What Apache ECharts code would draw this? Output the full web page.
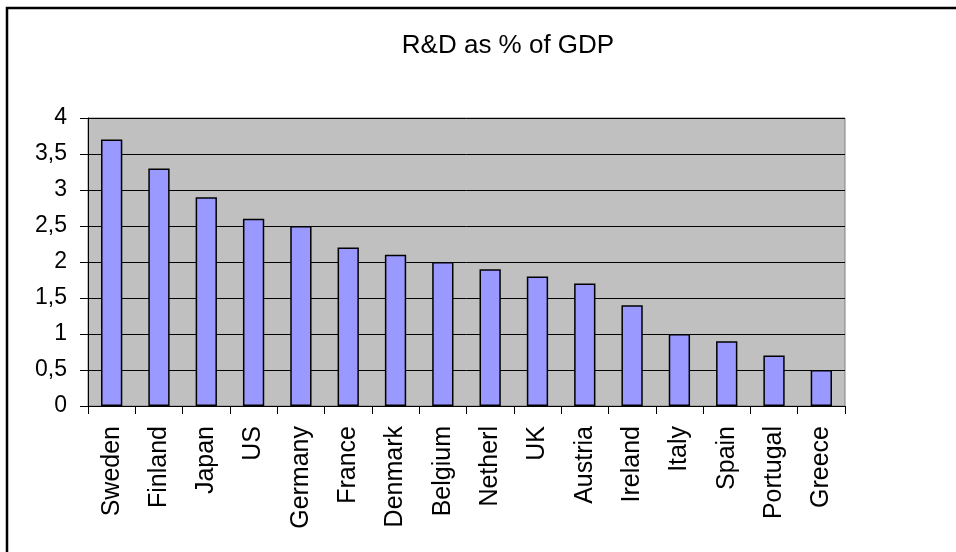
<!DOCTYPE html>
<html>
<head>
<meta charset="utf-8">
<title>R&amp;D as % of GDP</title>
<script src="https://cdn.jsdelivr.net/npm/echarts@6/dist/echarts.min.js"></script>
<style>
  html, body { margin: 0; padding: 0; background: #ffffff; }
  #chart { width: 956px; height: 552px; }
</style>
</head>
<body>
<div id="chart"></div>
<script>
// Country names along the category axis
const countries = ['Sweden', 'Finland', 'Japan', 'US', 'Germany', 'France', 'Denmark',
  'Belgium', 'Netherl', 'UK', 'Austria', 'Ireland', 'Italy', 'Spain', 'Portugal', 'Greece'];

// R&D expenditure as a percentage of GDP
const rdShare = [3.7, 3.3, 2.9, 2.6, 2.5, 2.2, 2.1, 2.0, 1.9, 1.8, 1.7, 1.4, 1.0, 0.9, 0.7, 0.5];

// Value axis range and step
const yMin = 0;
const yMax = 4;
const yStep = 0.5;

const chartTitle = 'R&D as % of GDP';
const FONT = '"Liberation Sans", Arial, sans-serif';

const chart = echarts.init(document.getElementById('chart'), null, { renderer: 'canvas' });

chart.setOption({
  backgroundColor: '#ffffff',
  animation: false,
  title: {
    text: chartTitle,
    left: 503,
    top: 28,
    textAlign: 'center',
    textStyle: { fontFamily: FONT, fontSize: 26, fontWeight: 'normal', color: '#000000' }
  },
  graphic: [
    {
      // outer frame of the chart area
      type: 'rect',
      silent: true,
      z: 100,
      shape: { x: 7, y: 8, width: 1000, height: 600 },
      style: { fill: null, stroke: '#000000', lineWidth: 2.5 }
    }
  ],
  grid: {
    left: 88,
    right: 111,
    top: 118,
    bottom: 146,
    show: true,
    backgroundColor: '#C0C0C0',
    borderColor: '#808080',
    borderWidth: 1
  },
  xAxis: {
    type: 'category',
    data: countries,
    boundaryGap: true,
    axisLine: { show: true, lineStyle: { color: '#000000', width: 1 } },
    axisTick: { show: true, inside: false, length: 8, alignWithLabel: false,
      lineStyle: { color: '#000000', width: 1 } },
    axisLabel: {
      rotate: 90,
      margin: 20,
      interval: 0,
      fontFamily: FONT,
      fontSize: 25,
      color: '#000000'
    },
    splitLine: { show: false }
  },
  yAxis: {
    type: 'value',
    min: yMin,
    max: yMax,
    interval: yStep,
    axisLine: { show: true, lineStyle: { color: '#000000', width: 1 } },
    axisTick: { show: true, inside: false, length: 8, lineStyle: { color: '#000000', width: 1 } },
    axisLabel: {
      margin: 21,
      fontFamily: FONT,
      fontSize: 23,
      color: '#000000',
      formatter: v => String(v).replace('.', ',')
    },
    splitLine: { show: true, lineStyle: { color: '#000000', width: 1 } }
  },
  series: [
    {
      type: 'bar',
      data: rdShare,
      barWidth: '45%',
      itemStyle: {
        color: '#9999FF',
        borderColor: '#000000',
        borderWidth: 1.5
      },
      emphasis: { disabled: true }
    }
  ]
});
</script>
</body>
</html>
